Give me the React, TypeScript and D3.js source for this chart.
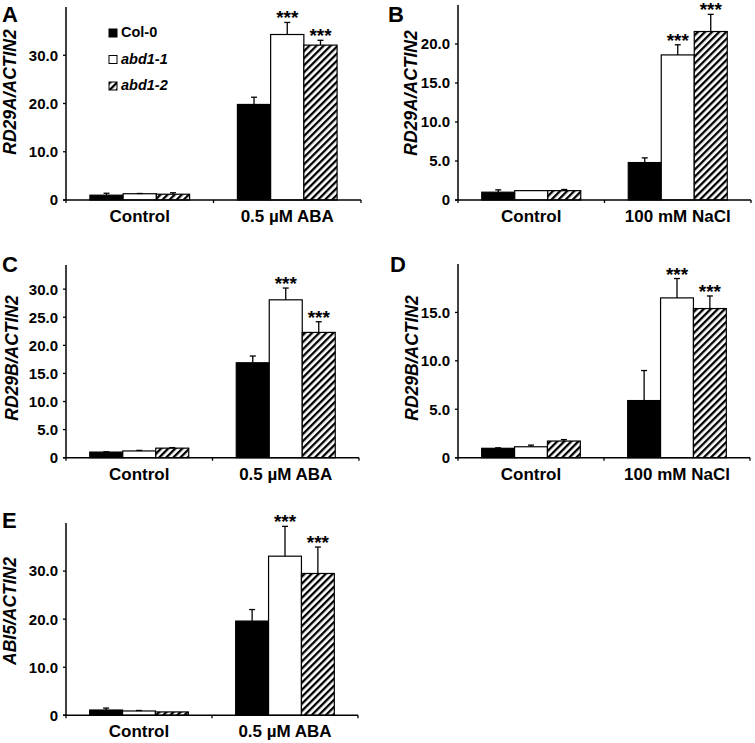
import React from "react";
import * as d3 from "d3";

// ---------- data ----------
const genotypes = ["Col-0", "abd1-1", "abd1-2"];
const treatmentsABA = ["Control", "0.5 \u00b5M ABA"];
const treatmentsNaCl = ["Control", "100 mM NaCl"];
const panelLetters = ["A", "B", "C", "D", "E"];
const yTitles = ["RD29A/ACTIN2", "RD29A/ACTIN2", "RD29B/ACTIN2", "RD29B/ACTIN2", "ABI5/ACTIN2"];

// [treatment][genotype]
const meanA = [[1.0, 1.3, 1.2], [19.8, 34.3, 32.1]];
const errA = [[0.4, 0.05, 0.3], [1.5, 2.5, 1.0]];
const meanB = [[1.0, 1.2, 1.2], [4.8, 18.6, 21.6]];
const errB = [[0.3, 0.0, 0.15], [0.6, 1.3, 2.2]];
const meanC = [[1.0, 1.2, 1.7], [16.9, 28.1, 22.3]];
const errC = [[0.05, 0.1, 0.1], [1.2, 2.1, 1.9]];
const meanD = [[0.97, 1.13, 1.72], [5.9, 16.5, 15.4]];
const errD = [[0.05, 0.17, 0.15], [3.1, 2.0, 1.3]];
const meanE = [[1.1, 0.9, 0.7], [19.6, 33.1, 29.5]];
const errE = [[0.4, 0.1, 0.0], [2.4, 6.2, 5.5]];

// significance flags [treatment][genotype]
const sigMarks = [["", "", ""], ["", "***", "***"]];

const ticksA = [0, 10, 20, 30];
const ticksB = [0, 5, 10, 15, 20];
const ticksC = [0, 5, 10, 15, 20, 25, 30];
const ticksD = [0, 5, 10, 15];
const ticksE = [0, 10, 20, 30];

const yMaxes = [40, 25, 34.3, 20, 40];

// ---------- layout ----------
const FONT = "'Liberation Sans', Arial, Helvetica, sans-serif";

type Panel = {
  letter: string;
  title: string;
  treatments: string[];
  mean: number[][];
  err: number[][];
  ticks: number[];
  yMax: number;
  x0: number;
  x1: number;
  base: number;
  top: number;
  letterX: number;
  letterY: number;
  titleX: number;
  titleY: number;
  legend?: boolean;
};

const panels: Panel[] = [
  { letter: panelLetters[0], title: yTitles[0], treatments: treatmentsABA, mean: meanA, err: errA, ticks: ticksA, yMax: yMaxes[0],
    x0: 66, x1: 361, base: 200, top: 7, letterX: 2, letterY: 22, titleX: 16, titleY: 92, legend: true },
  { letter: panelLetters[1], title: yTitles[1], treatments: treatmentsNaCl, mean: meanB, err: errB, ticks: ticksB, yMax: yMaxes[1],
    x0: 458, x1: 751, base: 200, top: 5, letterX: 388, letterY: 22, titleX: 417, titleY: 93 },
  { letter: panelLetters[2], title: yTitles[2], treatments: treatmentsABA, mean: meanC, err: errC, ticks: ticksC, yMax: yMaxes[2],
    x0: 66, x1: 359, base: 457.7, top: 265, letterX: 2, letterY: 272, titleX: 18, titleY: 358 },
  { letter: panelLetters[3], title: yTitles[3], treatments: treatmentsNaCl, mean: meanD, err: errD, ticks: ticksD, yMax: yMaxes[3],
    x0: 458, x1: 750, base: 457.7, top: 264, letterX: 390, letterY: 272, titleX: 418, titleY: 358 },
  { letter: panelLetters[4], title: yTitles[4], treatments: treatmentsABA, mean: meanE, err: errE, ticks: ticksE, yMax: yMaxes[4],
    x0: 66, x1: 358, base: 715.3, top: 523, letterX: 2, letterY: 528, titleX: 16, titleY: 611 },
];

const fills = ["#000", "#fff", "url(#hatch)"];
const fmt = (v: number) => (v === 0 ? "0" : d3.format(".1f")(v));

function PanelView({ p }: { p: Panel }) {
  const y = d3.scaleLinear().domain([0, p.yMax]).range([p.base, p.top]);
  const xOuter = d3.scaleBand<string>().domain(p.treatments).range([p.x0, p.x1]).padding(0);
  const bw = xOuter.bandwidth();
  const xInner = d3.scaleBand<string>().domain(genotypes).range([0, bw]).paddingInner(0).paddingOuter(0.72);
  const barW = xInner.bandwidth();
  const boundaries = [p.x0, ...p.treatments.map((t) => (xOuter(t) as number) + bw)];

  return (
    <g>
      <text x={p.letterX} y={p.letterY} fontSize={22} fontWeight="bold" fontFamily={FONT}>
        {p.letter}
      </text>
      <text
        transform={`translate(${p.titleX},${p.titleY}) rotate(-90)`}
        textAnchor="middle"
        fontSize={17.5}
        fontWeight="bold"
        fontStyle="italic"
        fontFamily={FONT}
      >
        {p.title}
      </text>

      {/* bars */}
      {p.treatments.map((t, ti) =>
        genotypes.map((g, gi) => {
          const bx = (xOuter(t) as number) + (xInner(g) as number);
          const v = p.mean[ti][gi];
          const e = p.err[ti][gi];
          const cx = bx + barW / 2;
          const yTop = y(v);
          const yErr = y(v + e);
          const mark = sigMarks[ti][gi];
          return (
            <g key={t + g}>
              <rect x={bx} y={yTop} width={barW} height={p.base - yTop} fill={fills[gi]} stroke="#000" strokeWidth={1.2} />
              {e > 0.02 && (
                <g stroke="#000" strokeWidth={1.3}>
                  <line x1={cx} x2={cx} y1={yTop} y2={yErr} />
                  <line x1={cx - 3} x2={cx + 3} y1={yErr} y2={yErr} />
                </g>
              )}
              {mark && (
                <text x={cx} y={yErr + 2} textAnchor="middle" fontSize={19} fontWeight="bold" fontFamily={FONT}>
                  {mark}
                </text>
              )}
            </g>
          );
        })
      )}

      {/* y axis */}
      <line x1={p.x0} x2={p.x0} y1={p.top} y2={p.base} stroke="#000" strokeWidth={1.5} />
      {p.ticks.map((tv) => (
        <g key={tv}>
          <line x1={p.x0 - 3} x2={p.x0} y1={y(tv)} y2={y(tv)} stroke="#000" strokeWidth={1.3} />
          <text x={p.x0 - 8} y={y(tv)} dy="0.36em" textAnchor="end" fontSize={15} fontWeight="bold" fontFamily={FONT}>
            {fmt(tv)}
          </text>
        </g>
      ))}

      {/* x axis */}
      <line x1={p.x0 - 3} x2={p.x1} y1={p.base} y2={p.base} stroke="#000" strokeWidth={1.5} />
      {boundaries.map((bx, i) => (
        <line key={i} x1={bx} x2={bx} y1={p.base} y2={p.base + 3} stroke="#000" strokeWidth={1.3} />
      ))}
      {p.treatments.map((t) => (
        <text
          key={t}
          x={(xOuter(t) as number) + bw / 2}
          y={p.base + 22}
          textAnchor="middle"
          fontSize={17}
          fontWeight="bold"
          fontFamily={FONT}
        >
          {t}
        </text>
      ))}

      {p.legend &&
        genotypes.map((g, gi) => {
          const ly = 37 + gi * 26.5;
          return (
            <g key={g}>
              <rect x={109} y={ly - 8} width={8} height={8} fill={fills[gi]} stroke="#000" strokeWidth={1} />
              <text
                x={121}
                y={ly}
                fontSize={14.5}
                fontWeight="bold"
                fontStyle={gi === 0 ? "normal" : "italic"}
                fontFamily={FONT}
              >
                {g}
              </text>
            </g>
          );
        })}
    </g>
  );
}

export default function App() {
  return (
    <svg
      width={755}
      height={743}
      viewBox="0 0 755 743"
      style={{ position: "absolute", left: 0, top: 0, background: "#fff" }}
    >
      <defs>
        <pattern id="hatch" patternUnits="userSpaceOnUse" width={5} height={5} patternTransform="rotate(45)">
          <rect width={5} height={5} fill="#fff" />
          <rect x={0} y={0} width={2.3} height={5} fill="#000" />
        </pattern>
      </defs>
      <rect width={755} height={743} fill="#fff" />
      {panels.map((p) => (
        <PanelView key={p.letter} p={p} />
      ))}
    </svg>
  );
}
